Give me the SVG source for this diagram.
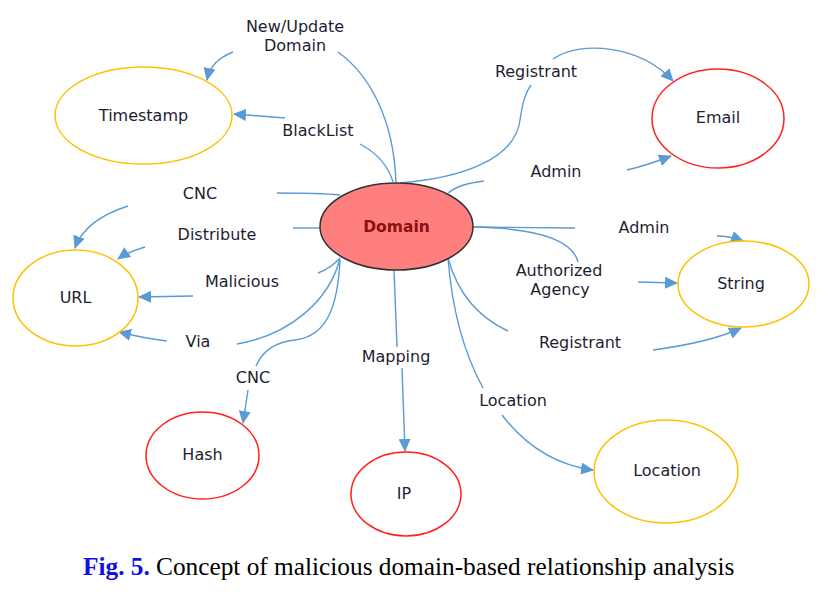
<svg xmlns="http://www.w3.org/2000/svg" width="828" height="594" viewBox="0 0 828 594">
<style>
.lbl{font-family:"DejaVu Sans","Open Sans",sans-serif;font-size:16px;fill:#1e1e32;text-anchor:middle}
.yel{fill:#fff;stroke:#FFC000;stroke-width:1.5}
.red{fill:#fff;stroke:#FF2020;stroke-width:1.5}
.c{fill:none;stroke:#5B9BD5;stroke-width:1.4}
.a{marker-end:url(#arr)}
.cap{font-family:"Liberation Serif","Times New Roman",serif;font-size:25.3px;fill:#000}
</style>
<defs>
<marker id="arr" markerUnits="userSpaceOnUse" markerWidth="14" markerHeight="12" refX="12" refY="6" orient="auto">
<path d="M0,0 L13,6 L0,12 Z" fill="#5B9BD5"/>
</marker>
</defs>
<rect width="828" height="594" fill="#fff"/>
<g id="connectors">
<path class="c" d="M396,183 C394,120 370,75 338,52"/>
<path class="c a" d="M233,52 C218,58 210,66 207,80"/>
<path class="c" d="M393,182 C388,165 375,152 360,144"/>
<path class="c a" d="M285,118 L234,114"/>
<path class="c" d="M340,195 C320,193 295,193 277,193"/>
<path class="c a" d="M128,206 C100,215 82,228 75,248"/>
<path class="c" d="M320,228 L293,228"/>
<path class="c a" d="M145,247 C135,250 125,254 118,259"/>
<path class="c" d="M340,258 C333,266 326,270 318,273"/>
<path class="c a" d="M193,296 L139,297"/>
<path class="c" d="M340,258 C330,300 290,335 237,344"/>
<path class="c a" d="M167,341 C150,339 135,336 119,332"/>
<path class="c" d="M340,260 C338,300 330,336 295,340 C275,342 262,352 256,366"/>
<path class="c a" d="M248,390 L243,423"/>
<path class="c" d="M394,270 L397,347"/>
<path class="c a" d="M402,368 L405,451"/>
<path class="c" d="M448,258 C452,310 465,355 483,388"/>
<path class="c a" d="M502,415 C525,445 555,465 593,470"/>
<path class="c" d="M448,258 C458,295 480,318 508,331"/>
<path class="c a" d="M653,350 C690,345 720,338 741,328"/>
<path class="c" d="M473,227 C530,228 572,238 578,262"/>
<path class="c a" d="M638,282 L677,283"/>
<path class="c" d="M473,227 L575,228"/>
<path class="c a" d="M717,236 C727,236 735,238 743,241"/>
<path class="c" d="M448,193 C458,185 470,183 484,181"/>
<path class="c a" d="M627,170 C645,166 658,161 671,156"/>
<path class="c" d="M400,183 C460,178 515,160 520,120 C523,100 526,92 531,85"/>
<path class="c a" d="M553,59 C580,40 640,45 673,81"/>
</g>
<g id="labels">
<text class="lbl" x="295" y="32">New/Update</text>
<text class="lbl" x="295" y="51">Domain</text>
<text class="lbl" x="318" y="136">BlackList</text>
<text class="lbl" x="200" y="199">CNC</text>
<text class="lbl" x="217" y="240">Distribute</text>
<text class="lbl" x="242" y="287">Malicious</text>
<text class="lbl" x="198" y="347">Via</text>
<text class="lbl" x="253" y="383">CNC</text>
<text class="lbl" x="396" y="362">Mapping</text>
<text class="lbl" x="513" y="406">Location</text>
<text class="lbl" x="580" y="348">Registrant</text>
<text class="lbl" x="559" y="276">Authorized</text>
<text class="lbl" x="560" y="295">Agency</text>
<text class="lbl" x="644" y="233">Admin</text>
<text class="lbl" x="556" y="177">Admin</text>
<text class="lbl" x="536" y="77">Registrant</text>
</g>
<g id="Domain">
<ellipse cx="396.5" cy="226.5" rx="76.5" ry="43.5" fill="#FF7F7F" stroke="#333" stroke-width="1.5"/>
<text x="396.5" y="232" font-family="DejaVu Sans, sans-serif" font-size="15.5px" font-weight="bold" fill="#8B1010" text-anchor="middle">Domain</text>
</g>
<g id="Timestamp">
<ellipse class="yel" cx="143.5" cy="115.5" rx="88.5" ry="48.5"/>
<text class="lbl" x="143.5" y="121">Timestamp</text>
</g>
<g id="URL">
<ellipse class="yel" cx="75.5" cy="298" rx="62.5" ry="48"/>
<text class="lbl" x="75.5" y="303">URL</text>
</g>
<g id="Hash">
<ellipse class="red" cx="202.5" cy="455.5" rx="56.5" ry="43.5"/>
<text class="lbl" x="202.5" y="460">Hash</text>
</g>
<g id="IP">
<ellipse class="red" cx="406" cy="494" rx="55" ry="42"/>
<text class="lbl" x="404" y="499">IP</text>
</g>
<g id="Email">
<ellipse class="red" cx="718" cy="118.5" rx="66" ry="49.5"/>
<text class="lbl" x="718" y="123">Email</text>
</g>
<g id="String">
<ellipse class="yel" cx="743.5" cy="284" rx="65.5" ry="43"/>
<text class="lbl" x="741" y="289">String</text>
</g>
<g id="Location">
<ellipse class="yel" cx="666" cy="471.5" rx="72" ry="51.5"/>
<text class="lbl" x="667" y="476">Location</text>
</g>
<text class="cap" x="83" y="575"><tspan fill="#1010E0" font-weight="bold">Fig. 5.</tspan> Concept of malicious domain-based relationship analysis</text>
</svg>
